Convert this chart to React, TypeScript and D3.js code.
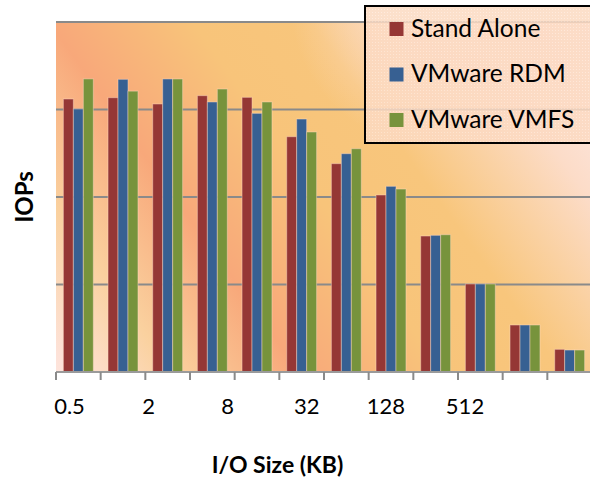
import React from 'react';
import * as d3 from 'd3';

const categories = ['0.5', '1', '2', '4', '8', '16', '32', '64', '128', '256', '512', '1024'];
const tickLabels = ['0.5', '2', '8', '32', '128', '512'];
const seriesNames = ['Stand Alone', 'VMware RDM', 'VMware VMFS'];
const standAlone = [3.12, 3.135, 3.063, 3.158, 3.139, 2.689, 2.381, 2.023, 1.554, 1.006, 0.537, 0.259];
const vmwareRdm = [3.006, 3.345, 3.349, 3.086, 2.956, 2.891, 2.495, 2.122, 1.562, 1.006, 0.537, 0.251];
const vmwareVmfs = [3.35, 3.21, 3.349, 3.234, 3.086, 2.743, 2.552, 2.091, 1.569, 1.006, 0.537, 0.251];
const colors = ['#953735', '#376092', '#77933C'];

const W = 590;
const H = 483;
const plotLeft = 56;
const plotRight = 592;
const plotTop = 22;
const plotBottom = 372;

export default function App() {
  const series = [standAlone, vmwareRdm, vmwareVmfs];
  const x = d3.scaleBand<string>().domain(categories).range([plotLeft, plotRight]).paddingInner(0.33).paddingOuter(0.165);
  const xs = d3.scaleBand<string>().domain(seriesNames).range([0, x.bandwidth()]);
  const y = d3.scaleLinear().domain([0, 4]).range([plotBottom, plotTop]);
  const xl = d3.scalePoint<string>().domain(tickLabels).range([69.5, 465]);
  const step = x.step();
  const boundaries = d3.range(categories.length + 1).map((i) => plotLeft + i * step);

  return (
    <svg width={W} height={H} style={{ position: 'absolute', left: 0, top: 0, background: '#fff' }} fontFamily="Lato, 'Open Sans', sans-serif">
      <defs>
        <linearGradient id="bg" gradientUnits="userSpaceOnUse" x1={40} y1={400} x2={600} y2={0}>
          <stop offset="0" stopColor="#FEE9E6" />
          <stop offset="0.06" stopColor="#FDE2D8" />
          <stop offset="0.18" stopColor="#FAD19F" />
          <stop offset="0.33" stopColor="#F8A87A" />
          <stop offset="0.5" stopColor="#F8C47A" />
          <stop offset="0.64" stopColor="#F8C67C" />
          <stop offset="0.82" stopColor="#FCDCC8" />
          <stop offset="1" stopColor="#FDEEF2" />
        </linearGradient>
        <radialGradient id="glow" gradientUnits="userSpaceOnUse" cx={440} cy={0} r={150}>
          <stop offset="0" stopColor="#FDE4DC" stopOpacity={0.9} />
          <stop offset="0.5" stopColor="#FDE0D4" stopOpacity={0.5} />
          <stop offset="1" stopColor="#FDE0D4" stopOpacity={0} />
        </radialGradient>
        <pattern id="dots" width="3" height="3" patternUnits="userSpaceOnUse">
          <rect width="3" height="3" fill="#FCDAC2" />
          <rect width="1" height="1" fill="#FFE8D8" />
        </pattern>
      </defs>
      <rect x={plotLeft} y={plotTop} width={W - plotLeft} height={plotBottom - plotTop} fill="url(#bg)" />
      <rect x={plotLeft} y={plotTop} width={W - plotLeft} height={plotBottom - plotTop} fill="url(#glow)" />
      {y.ticks(4).filter((t) => t > 0).map((t) => (
        <line key={t} x1={plotLeft} x2={W} y1={y(t)} y2={y(t)} stroke="#8A8A8A" strokeWidth={2} />
      ))}
      {categories.map((c, i) => (
        <g key={c} transform={`translate(${x(c)},0)`}>
          {series.map((s, j) => (
            <rect
              key={j}
              x={xs(seriesNames[j])}
              y={y(s[i])}
              width={xs.bandwidth()}
              height={y(0) - y(s[i])}
              fill={colors[j]}
              stroke="rgba(255,220,200,0.45)"
              strokeWidth={1}
            />
          ))}
        </g>
      ))}
      <line x1={plotLeft} x2={W} y1={plotBottom} y2={plotBottom} stroke="#9A9A9A" strokeWidth={2} />
      {boundaries.map((b, i) => (
        <line key={i} x1={b} x2={b} y1={plotBottom} y2={plotBottom + 8} stroke="#8A8A8A" strokeWidth={2} />
      ))}
      {tickLabels.map((t) => (
        <text key={t} x={xl(t)} y={413.5} textAnchor="middle" fontSize={22} fill="#000">{t}</text>
      ))}
      <text x={277.5} y={472.5} textAnchor="middle" fontSize={23} fontWeight="bold" fill="#000">I/O Size (KB)</text>
      <text transform="translate(32.5,197) rotate(-90)" textAnchor="middle" fontSize={24} fontWeight="bold" fill="#000">IOPs</text>
      <g>
        <rect x={365} y={6} width={260} height={137} fill="url(#dots)" fillOpacity={0.85} stroke="#000" strokeWidth={2} />
        {seriesNames.map((n, j) => (
          <g key={n}>
            <rect x={389.5} y={22 + j * 45.5} width={14} height={14} fill={colors[j]} />
            <text x={411} y={36.5 + j * 45.5} fontSize={24.5} fill="#000">{n}</text>
          </g>
        ))}
      </g>
    </svg>
  );
}
